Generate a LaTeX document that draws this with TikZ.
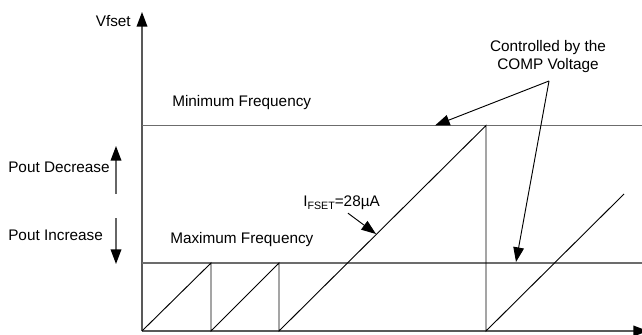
\documentclass[tikz,border=0pt]{standalone}
\usepackage{fontspec}
\setmainfont{Liberation Sans}
\usetikzlibrary{arrows.meta, positioning}
\tikzset{
  axis/.style = {draw=gray!70!black, line width=1.1pt, -{Triangle[length=11pt, width=8pt, color=black]}},
  level/.style = {draw=gray!85!black, line width=1.1pt},
  ramp/.style = {draw=black, line width=0.7pt},
  txt/.style = {font=\fontsize{11.5}{13.5}\selectfont, inner sep=0pt},
  pointer/.style = {draw=black, line width=0.7pt, -{Triangle[length=11pt, width=8pt]}},
  pout/.style = {draw=gray!80!black, line width=1.1pt, -{Triangle[length=11pt, width=8pt, color=black]}}
}

\begin{document}
\begin{tikzpicture}[x=0.75pt, y=-0.75pt]
    \useasboundingbox (0,0) rectangle (642,335);

    % Axes
    \coordinate (origin) at (142,331);
    \coordinate (ytop) at (142,12);
    \coordinate (xend) at (648,331);
    \draw [axis] (origin) -- (ytop);
    \draw [axis] (origin) -- (xend);

    % Frequency levels
    \coordinate (minl) at (142,125.5);
    \coordinate (minr) at (642,125.5);
    \coordinate (maxl) at (142,263);
    \coordinate (maxr) at (642,263);
    \draw [level] (minl) -- (minr);
    \draw [level] (maxl) -- (maxr);

    % Sawtooth
    \draw [ramp] (origin) -- (211,263) -- (211,331) -- (279,263) -- (279,331)
        -- (486,125.5) -- (486,331) -- (624,194);

    % Place the labels
    \node [txt, anchor=east] (vfset) at (131,21) {Vfset};
    \node [txt, anchor=west] (minf) at (172,103) {Minimum Frequency};
    \node [txt, anchor=west] (maxf) at (170,240) {Maximum Frequency};
    \node [txt, anchor=west] (ifset) at (303,203)
        {I\raisebox{-0.35ex}{\fontsize{8}{9}\selectfont FSET}=28µA};
    \node [txt, align=center] (comp) at (548,57) {Controlled by the\\COMP Voltage};
    \node [txt, anchor=west] (pdec) at (8,167) {Pout Decrease};
    \node [txt, anchor=west] (pinc) at (8,235) {Pout Increase};

    % Pointers
    \coordinate (ramptip) at (376,234);
    \draw [pointer] (ifset.south west) ++(45,3) -- (ramptip);
    \coordinate (split) at (549,81);
    \draw [pointer] (split) -- (435,125.5);
    \draw [pointer] (split) -- (516,262);

    % Pout arrows
    \draw [pout] (116,194) -- (116,146);
    \draw [pout] (116,218) -- (116,264);

\end{tikzpicture}
\end{document}
